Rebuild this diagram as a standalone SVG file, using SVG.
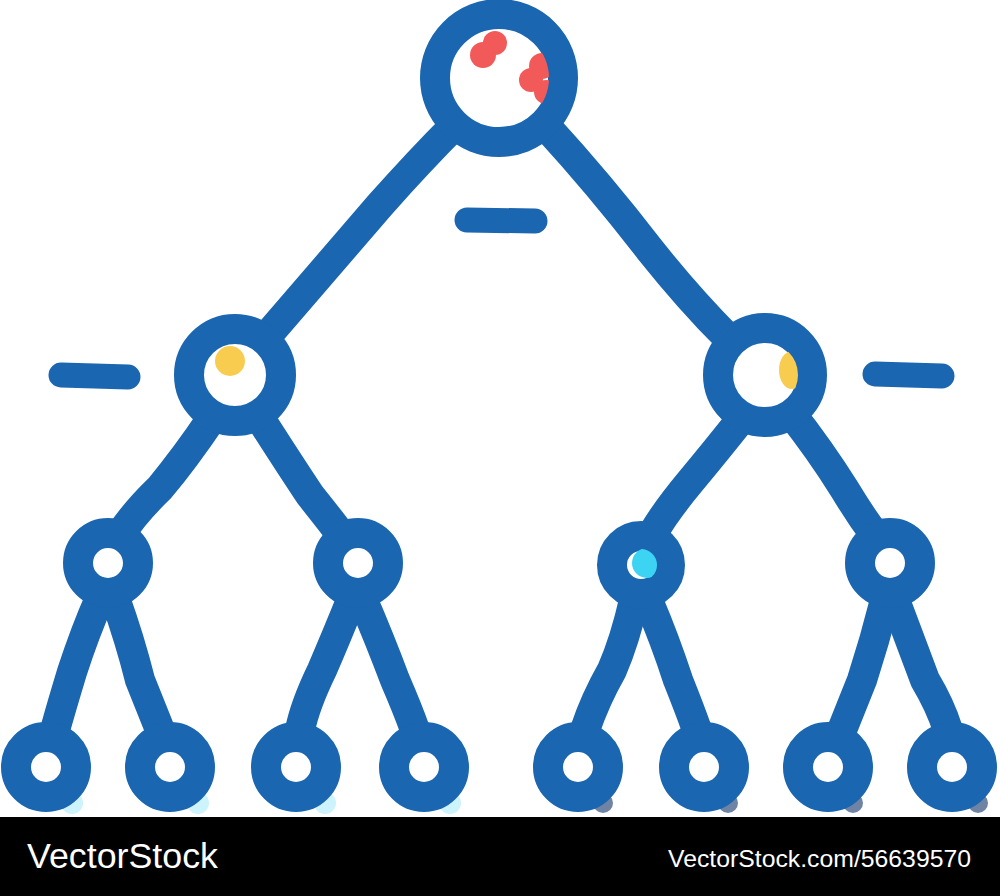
<svg xmlns="http://www.w3.org/2000/svg" width="1000" height="896" viewBox="0 0 1000 896">
<style>
.c{fill:none;stroke:#1a66b0;stroke-width:30;stroke-linecap:round;stroke-linejoin:round}
.n{fill:#fff;stroke:#1a66b0;stroke-width:30}
.m{stroke:#1a66b0;stroke-width:25;stroke-linecap:round}
.t{fill:#fff;font-family:"Liberation Sans",Arial,sans-serif}
</style>
<defs>
<clipPath id="cr"><circle cx="500" cy="78" r="49"/></clipPath>
<clipPath id="cl"><circle cx="235" cy="375" r="31"/></clipPath>
<clipPath id="crr"><circle cx="765" cy="375" r="33"/></clipPath>
<clipPath id="cc"><circle cx="641" cy="565" r="16"/></clipPath>
</defs>
<rect width="1000" height="896" fill="#fff"/>
<g id="connectors">
<path class="c" d="M455,125 Q420,160 380,205 Q320,275 262,342"/>
<path class="c" d="M545,125 Q600,185 650,250 Q690,300 728,338"/>
<path class="c" d="M212,418 Q185,458 160,488 Q135,512 120,535"/>
<path class="c" d="M258,415 Q290,465 310,495 Q330,520 345,540"/>
<path class="c" d="M742,418 Q715,452 690,482 Q665,512 652,535"/>
<path class="c" d="M790,412 Q820,450 845,490 Q860,515 875,535"/>
<path class="c" d="M100,598 Q85,632 72,672 Q62,705 55,730"/>
<path class="c" d="M115,598 Q130,640 140,680 Q152,710 160,730"/>
<path class="c" d="M352,598 Q335,640 322,670 Q305,705 300,730"/>
<path class="c" d="M362,598 Q380,640 395,680 Q408,710 415,730"/>
<path class="c" d="M634,600 Q625,640 612,670 Q595,700 585,730"/>
<path class="c" d="M648,600 Q665,640 678,680 Q690,710 697,730"/>
<path class="c" d="M885,600 Q875,640 862,680 Q850,710 842,730"/>
<path class="c" d="M895,600 Q910,640 925,680 Q940,705 948,730"/>
</g>
<g id="minus">
<line class="m" x1="467" y1="220" x2="535" y2="221"/>
<line class="m" x1="61" y1="375" x2="128" y2="377"/>
<line class="m" x1="875" y1="374" x2="942" y2="376"/>
</g>
<g id="root">
<circle class="n" cx="499" cy="78" r="64"/>
<g clip-path="url(#cr)" fill="#f25a5a">
<circle cx="483" cy="55" r="13"/><circle cx="495" cy="43" r="12"/>
<circle cx="531" cy="80" r="12"/><circle cx="542" cy="66" r="13"/><circle cx="546" cy="92" r="12"/>
</g>
</g>
<g id="n-left">
<circle class="n" cx="235" cy="375" r="46"/>
<g clip-path="url(#cl)" fill="#f8cd4f"><circle cx="230" cy="361" r="15"/></g>
</g>
<g id="n-right">
<circle class="n" cx="765" cy="375" r="47"/>
<g clip-path="url(#crr)" fill="#f8cd4f"><ellipse cx="792" cy="370" rx="13" ry="19"/></g>
</g>
<g id="n3a"><circle class="n" cx="108" cy="563" r="30"/></g>
<g id="n3b"><circle class="n" cx="358" cy="563" r="30"/></g>
<g id="n3c"><circle class="n" cx="641" cy="565" r="29"/>
<g clip-path="url(#cc)" fill="#3dd3f3"><circle cx="647" cy="563" r="15"/></g></g>
<g id="n3d"><circle class="n" cx="890" cy="563" r="30"/></g>
<g id="shadows">
<circle cx="72" cy="803" r="11" fill="#cdf3fd"/>
<circle cx="198" cy="803" r="11" fill="#cdf3fd"/>
<circle cx="325" cy="803" r="11" fill="#cdf3fd"/>
<circle cx="450" cy="803" r="11" fill="#cdf3fd"/>
<circle cx="603" cy="803" r="10" fill="#6f84a4"/>
<circle cx="728" cy="803" r="10" fill="#6f84a4"/>
<circle cx="853" cy="803" r="10" fill="#6f84a4"/>
<circle cx="978" cy="803" r="10" fill="#6f84a4"/>
</g>
<g id="leaf1"><circle class="n" cx="46" cy="767" r="30"/></g>
<g id="leaf2"><circle class="n" cx="170" cy="767" r="30"/></g>
<g id="leaf3"><circle class="n" cx="296" cy="767" r="30"/></g>
<g id="leaf4"><circle class="n" cx="424" cy="767" r="30"/></g>
<g id="leaf5"><circle class="n" cx="578" cy="767" r="30"/></g>
<g id="leaf6"><circle class="n" cx="704" cy="767" r="30"/></g>
<g id="leaf7"><circle class="n" cx="828" cy="767" r="30"/></g>
<g id="leaf8"><circle class="n" cx="952" cy="767" r="30"/></g>
<g id="footer">
<rect x="0" y="817" width="1000" height="79" fill="#000"/>
<text class="t" x="27" y="868" font-size="35" textLength="191" lengthAdjust="spacingAndGlyphs">VectorStock</text>
<text class="t" x="668" y="867" font-size="24.5" textLength="303" lengthAdjust="spacingAndGlyphs">VectorStock.com/56639570</text>
</g>
</svg>
